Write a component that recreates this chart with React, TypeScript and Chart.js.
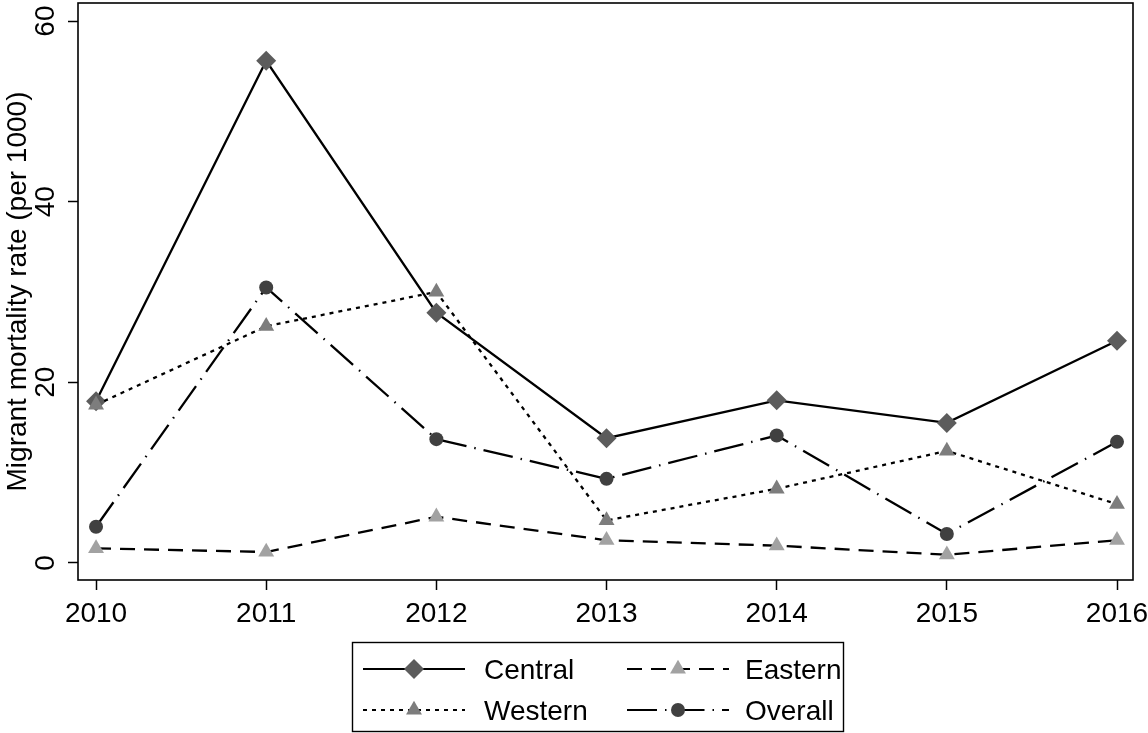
import React, { useEffect, useRef } from "react";
import { Chart, registerables } from "chart.js";

Chart.register(...registerables);

const YEARS = [2010, 2011, 2012, 2013, 2014, 2015, 2016];
const CENTRAL = [17.9, 55.6, 27.7, 13.8, 18.0, 15.5, 24.6];
const EASTERN = [1.6, 1.2, 5.1, 2.5, 1.9, 0.9, 2.5];
const WESTERN = [17.5, 26.2, 30.0, 4.7, 8.2, 12.4, 6.5];
const OVERALL = [4.0, 30.5, 13.7, 9.3, 14.1, 3.2, 13.4];
const Y_TICKS = [0, 20, 40, 60];
const Y_TITLE = "Migrant mortality rate (per 1000)";

const FONT = "'Liberation Sans', Arial, Helvetica, sans-serif";
const FS = 28;
// canvas is shifted up by this many px to compensate for Chart.js's inner top padding
const SHIFT = 7;
const W = 1148;
const H = 733 + SHIFT;

type Series = {
  label: string;
  values: number[];
  dash: number[];
  shape: "rectRot" | "triangle" | "circle";
  radius: number;
  fill: string;
  order: number;
};

const SERIES: Series[] = [
  { label: "Central", values: CENTRAL, dash: [], shape: "rectRot", radius: 10, fill: "#5c5c5c", order: 4 },
  { label: "Eastern", values: EASTERN, dash: [15, 9], shape: "triangle", radius: 9.2, fill: "#a2a2a2", order: 3 },
  { label: "Western", values: WESTERN, dash: [4, 5], shape: "triangle", radius: 9.2, fill: "#7d7d7d", order: 2 },
  { label: "Overall", values: OVERALL, dash: [30, 8, 1.5, 8], shape: "circle", radius: 7, fill: "#404040", order: 1 },
];

const LEGEND_POS: [number, number][] = [
  [0, 0],
  [1, 0],
  [0, 1],
  [1, 1],
];

function drawMarker(ctx: CanvasRenderingContext2D, shape: string, x: number, y: number, r: number, fill: string) {
  ctx.save();
  ctx.setLineDash([]);
  ctx.fillStyle = fill;
  ctx.beginPath();
  if (shape === "rectRot") {
    ctx.moveTo(x - r, y);
    ctx.lineTo(x, y - r);
    ctx.lineTo(x + r, y);
    ctx.lineTo(x, y + r);
  } else if (shape === "triangle") {
    let a = 0;
    for (let i = 0; i < 3; i++) {
      const px = x + Math.sin(a) * r;
      const py = y - Math.cos(a) * r;
      if (i === 0) ctx.moveTo(px, py);
      else ctx.lineTo(px, py);
      a += (2 * Math.PI) / 3;
    }
  } else {
    ctx.arc(x, y, r, 0, Math.PI * 2);
  }
  ctx.closePath();
  ctx.fill();
  ctx.restore();
}

const framePlugin = {
  id: "frameAndLegend",
  afterDraw(chart: any) {
    const ctx: CanvasRenderingContext2D = chart.ctx;
    const a = chart.chartArea;
    ctx.save();
    ctx.strokeStyle = "#000";
    ctx.lineWidth = 1.6;
    ctx.setLineDash([]);
    ctx.strokeRect(a.left, a.top, a.right - a.left, a.bottom - a.top);

    const bx = 352, by = 642 + SHIFT, bw = 491, bh = 89;
    ctx.lineWidth = 1.4;
    ctx.strokeRect(bx + 0.5, by + 0.5, bw, bh);

    const colLineX = [363, 627];
    const lineLen = 102;
    const colTextX = [484, 745];
    const rowY = [669 + SHIFT, 710 + SHIFT];
    ctx.font = `${FS}px ${FONT}`;
    ctx.textBaseline = "alphabetic";
    ctx.textAlign = "left";
    SERIES.forEach((s, i) => {
      const [c, r] = LEGEND_POS[i];
      const x1 = colLineX[c];
      const y = rowY[r];
      ctx.save();
      ctx.strokeStyle = "#000";
      ctx.lineWidth = 2;
      ctx.setLineDash(s.dash);
      ctx.beginPath();
      ctx.moveTo(x1, y);
      ctx.lineTo(x1 + lineLen, y);
      ctx.stroke();
      ctx.restore();
      drawMarker(ctx, s.shape, x1 + lineLen / 2, y, s.radius, s.fill);
      ctx.fillStyle = "#000";
      ctx.fillText(s.label, colTextX[c], y + 10);
    });
    ctx.restore();
  },
};

function zeroPadding(scale: any) {
  scale.paddingTop = 0;
  scale.paddingBottom = 0;
  scale.paddingLeft = 0;
  scale.paddingRight = 0;
}

export default function App() {
  const ref = useRef<HTMLCanvasElement | null>(null);

  useEffect(() => {
    if (!ref.current) return;
    const chart = new Chart(ref.current, {
      type: "line",
      data: {
        datasets: SERIES.map((s) => ({
          label: s.label,
          data: YEARS.map((x, i) => ({ x, y: s.values[i] })),
          borderColor: "#000",
          borderWidth: 2.3,
          borderDash: s.dash,
          fill: false,
          tension: 0,
          pointStyle: s.shape,
          pointRadius: s.radius,
          pointHoverRadius: s.radius,
          pointBackgroundColor: s.fill,
          pointBorderColor: s.fill,
          pointBorderWidth: 0,
          order: s.order,
        })),
      },
      options: {
        animation: false,
        responsive: false,
        devicePixelRatio: 1,
        events: [],
        layout: { padding: { top: 3, right: 15, left: 0, bottom: 0 } },
        plugins: {
          legend: { display: false },
          tooltip: { enabled: false },
        },
        scales: {
          x: {
            type: "linear",
            min: 2009.894,
            max: 2016.094,
            afterBuildTicks: (scale: any) => {
              scale.ticks = YEARS.map((v) => ({ value: v }));
            },
            afterFit: (scale: any) => {
              scale.height = 153;
              zeroPadding(scale);
            },
            border: { display: false },
            grid: {
              display: true,
              drawOnChartArea: false,
              drawTicks: true,
              tickLength: 10,
              tickColor: "#000",
              tickWidth: 1.5,
              color: "#000",
            },
            ticks: {
              color: "#000",
              font: { family: FONT, size: FS },
              padding: 7.5,
              maxRotation: 0,
              minRotation: 0,
              callback: (v: any) => String(v),
            },
          },
          y: {
            type: "linear",
            min: -1.9,
            max: 62,
            afterBuildTicks: (scale: any) => {
              scale.ticks = Y_TICKS.map((v) => ({ value: v }));
            },
            afterFit: (scale: any) => {
              scale.width = 78;
              zeroPadding(scale);
            },
            border: { display: false },
            grid: {
              display: true,
              drawOnChartArea: false,
              drawTicks: true,
              tickLength: 10,
              tickColor: "#000",
              tickWidth: 1.5,
              color: "#000",
            },
            ticks: {
              color: "#000",
              font: { family: FONT, size: FS },
              padding: 6,
              minRotation: 90,
              maxRotation: 90,
              crossAlign: "center",
              callback: (v: any) => String(v),
            },
            title: {
              display: true,
              text: Y_TITLE,
              color: "#000",
              font: { family: FONT, size: FS },
              padding: { top: 1.5, bottom: 0 },
            },
          },
        },
      },
      plugins: [framePlugin],
    } as any);
    return () => chart.destroy();
  }, []);

  return (
    <div style={{ position: "fixed", left: 0, top: 0, width: W, height: 733, overflow: "hidden", background: "#fff" }}>
      <canvas ref={ref} width={W} height={H} style={{ display: "block", marginTop: -SHIFT }} />
    </div>
  );
}
